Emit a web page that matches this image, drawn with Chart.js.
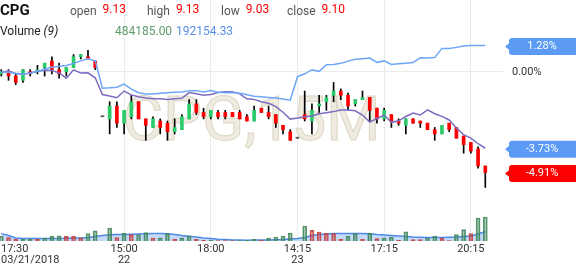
<!DOCTYPE html>
<html>
<head>
<meta charset="utf-8">
<script src="https://cdn.jsdelivr.net/npm/chart.js@4.4.1/dist/chart.umd.min.js"></script>
<style>
  html, body { margin: 0; padding: 0; background: #fff; }
  #wrap { width: 576px; height: 268px; position: relative; }
</style>
</head>
<body>
<div id="wrap"><canvas id="myChart"></canvas></div>
<script>
'use strict';

let symbol = 'CPG';
let period = '15M';
let basePrice = 9.57;

// 15 minute candles, 03/21/2018 17:30 -> 03/23/2018
let opens = [9.56, 9.57, 9.55, 9.53, 9.57, 9.57, 9.59, 9.62, 9.58, 9.57,
    9.59, 9.64, 9.64, 9.62, 9.36, 9.35, 9.41, 9.33, 9.36, 9.43,
    9.35, 9.31, 9.34, 9.33, 9.29, 9.30, 9.35, 9.42, 9.38, 9.36,
    9.38, 9.38, 9.38, 9.38, 9.36, 9.34, 9.40, 9.38, 9.37, 9.32,
    9.29, 9.26, 9.37, 9.34, 9.41, 9.43, 9.46, 9.48, 9.46, 9.42,
    9.44, 9.45, 9.40, 9.35, 9.37, 9.34, 9.32, 9.35, 9.34, 9.33,
    9.30, 9.28, 9.33, 9.31, 9.27, 9.24, 9.21, 9.13];
let highs = [9.58, 9.58, 9.56, 9.58, 9.58, 9.60, 9.61, 9.64, 9.61, 9.59,
    9.65, 9.65, 9.67, 9.62, 9.36, 9.43, 9.43, 9.39, 9.46, 9.43,
    9.35, 9.36, 9.35, 9.34, 9.35, 9.37, 9.44, 9.44, 9.40, 9.39,
    9.39, 9.39, 9.38, 9.39, 9.37, 9.41, 9.40, 9.41, 9.37, 9.32,
    9.30, 9.26, 9.48, 9.42, 9.46, 9.46, 9.52, 9.49, 9.47, 9.44,
    9.48, 9.45, 9.40, 9.40, 9.37, 9.35, 9.35, 9.35, 9.34, 9.33,
    9.31, 9.32, 9.33, 9.31, 9.27, 9.24, 9.22, 9.13];
let lows = [9.55, 9.53, 9.51, 9.52, 9.55, 9.56, 9.55, 9.56, 9.54, 9.55,
    9.59, 9.63, 9.63, 9.58, 9.36, 9.28, 9.31, 9.28, 9.35, 9.35,
    9.25, 9.31, 9.28, 9.25, 9.28, 9.30, 9.35, 9.37, 9.35, 9.35,
    9.35, 9.35, 9.36, 9.35, 9.34, 9.34, 9.38, 9.35, 9.31, 9.28,
    9.25, 9.26, 9.34, 9.28, 9.38, 9.39, 9.43, 9.44, 9.39, 9.41,
    9.44, 9.34, 9.33, 9.34, 9.31, 9.32, 9.28, 9.33, 9.31, 9.30,
    9.25, 9.28, 9.29, 9.26, 9.19, 9.19, 9.12, 9.03];
let closes = [9.57, 9.55, 9.52, 9.58, 9.56, 9.58, 9.61, 9.58, 9.56, 9.59,
    9.64, 9.65, 9.63, 9.59, 9.36, 9.41, 9.33, 9.39, 9.43, 9.35,
    9.32, 9.35, 9.31, 9.29, 9.31, 9.36, 9.42, 9.38, 9.36, 9.39,
    9.36, 9.36, 9.36, 9.35, 9.34, 9.39, 9.38, 9.36, 9.33, 9.30,
    9.25, 9.26, 9.35, 9.39, 9.42, 9.45, 9.48, 9.46, 9.41, 9.44,
    9.45, 9.39, 9.35, 9.39, 9.34, 9.33, 9.35, 9.33, 9.33, 9.30,
    9.28, 9.32, 9.30, 9.26, 9.23, 9.20, 9.13, 9.10];

// comparison line, % change
let compare = [-0.01, -0.02, -0.07, -0.11, -0.07, 0.02, 0.12, 0.22, 0.27, 0.31,
    0.41, 0.53, 0.63, 0.53, -0.80, -0.78, -0.75, -0.60, -0.85, -1.02,
    -1.09, -1.09, -1.05, -1.02, -1.00, -0.99, -0.92, -0.92, -0.99, -0.91,
    -1.00, -1.02, -1.01, -1.05, -1.12, -1.19, -1.22, -1.25, -1.28, -1.33,
    -1.39, -0.24, -0.10, 0.10, 0.02, 0.34, 0.36, 0.41, 0.52, 0.61,
    0.64, 0.67, 0.46, 0.53, 0.36, 0.39, 0.42, 0.45, 0.68, 0.67,
    0.69, 1.14, 1.13, 1.19, 1.26, 1.28, 1.28, 1.28];

// moving average of price
let maLine = [9.567, 9.575, 9.561, 9.559, 9.564, 9.572, 9.577, 9.576, 9.565, 9.540,
    9.579, 9.564, 9.565, 9.542, 9.464, 9.457, 9.449, 9.480, 9.462, 9.453,
    9.448, 9.444, 9.444, 9.441, 9.444, 9.446, 9.473, 9.467, 9.460, 9.464,
    9.473, 9.477, 9.477, 9.467, 9.444, 9.441, 9.430, 9.423, 9.407, 9.381,
    9.349, 9.354, 9.360, 9.364, 9.374, 9.379, 9.384, 9.392, 9.392, 9.388,
    9.368, 9.335, 9.352, 9.368, 9.334, 9.341, 9.361, 9.377, 9.368, 9.392,
    9.374, 9.362, 9.345, 9.308, 9.276, 9.260, 9.234, 9.213];

let volumes = [101200, 68400, 33900, 35100, 36300, 32800, 60700, 99800, 102500, 98600,
    96900, 60300, 148700, 203400, 0, 261800, 68900, 160500, 128700, 131200,
    169400, 60800, 62300, 148900, 34200, 61500, 100300, 33700, 12400, 14100,
    10200, 8300, 6100, 9800, 12600, 34500, 20300, 61200, 80900, 99700,
    161300, 0, 302800, 215600, 182300, 160900, 148600, 34100, 95200, 149300,
    33800, 160700, 47900, 61100, 81400, 13900, 182600, 27800, 27100, 60900,
    100400, 61300, 9700, 128900, 229800, 149200, 463700, 484185];

let volumeMa = [149000, 111000, 61000, 48000, 48000, 48000, 48000, 48000, 50000, 54000,
    61000, 61000, 71000, 91000, 111000, 125000, 129000, 133000, 137000, 141000,
    145000, 149000, 149000, 145000, 131000, 111000, 97000, 81000, 61000, 48000,
    35000, 28000, 22000, 18000, 17000, 18000, 19000, 22000, 26000, 30000,
    40000, 50000, 71000, 111000, 131000, 141000, 149000, 149000, 149000, 149000,
    149000, 145000, 131000, 121000, 111000, 101000, 91000, 81000, 77000, 71000,
    69000, 73000, 77000, 81000, 91000, 101000, 141000, 192154.33];

let tickIndex = [0, 17, 29, 41, 53, 65];
let tickTime = ['17:30', '15:00', '18:00', '14:15', '17:15', '20:15'];
let tickDay = ['03/21/2018', '22', '', '23', '', ''];

let green = '#2bcb6b';
let red = '#ff0000';
let last = closes.length - 1;

function candleColor(i) {
    if (closes[i] > opens[i]) return green;
    if (closes[i] < opens[i]) return red;
    return '#555555';
}

function volumeUp(i) {
    return i === 0 || volumes[i] >= volumes[i - 1];
}

let wickData = opens.map((o, i) => ({ x: i, y: [lows[i], highs[i]] }));
let bodyData = opens.map((o, i) => ({ x: i, y: [o, closes[i]] }));
let compareData = compare.map((p, i) => ({ x: i, y: basePrice * (1 + p / 100) }));
let maData = maLine.map((v, i) => ({ x: i, y: v }));
let volData = volumes.map((v, i) => ({ x: i, y: v }));
let volMaData = volumeMa.map((v, i) => ({ x: i, y: v }));

function pct(price) {
    return ((price / basePrice - 1) * 100).toFixed(2) + '%';
}

const watermark = {
    id: 'watermark',
    beforeDatasetsDraw(chart) {
        let ctx = chart.ctx;
        let area = chart.chartArea;
        ctx.save();
        ctx.font = '62px Roboto';
        ctx.textAlign = 'center';
        ctx.textBaseline = 'alphabetic';
        ctx.fillStyle = '#efebe1';
        ctx.strokeStyle = '#dcd6c4';
        ctx.lineWidth = 1;
        let cx = (area.left + area.right) / 2;
        ctx.fillText(symbol + ',' + period, cx, 140);
        ctx.strokeText(symbol + ',' + period, cx, 140);
        ctx.restore();
    }
};

function roundBox(ctx, x, y, w, h, r) {
    ctx.beginPath();
    ctx.moveTo(x + r, y);
    ctx.lineTo(x + w - r, y);
    ctx.quadraticCurveTo(x + w, y, x + w, y + r);
    ctx.lineTo(x + w, y + h - r);
    ctx.quadraticCurveTo(x + w, y + h, x + w - r, y + h);
    ctx.lineTo(x + r, y + h);
    ctx.quadraticCurveTo(x, y + h, x, y + h - r);
    ctx.lineTo(x, y + r);
    ctx.quadraticCurveTo(x, y, x + r, y);
    ctx.closePath();
}

const overlay = {
    id: 'overlay',
    afterDraw(chart) {
        let ctx = chart.ctx;
        let xs = chart.scales.x;
        let ys = chart.scales.y;
        ctx.save();

        // header
        ctx.textAlign = 'left';
        ctx.textBaseline = 'alphabetic';
        ctx.font = 'bold 15px Roboto';
        ctx.fillStyle = '#111';
        ctx.fillText(symbol, 0, 15);

        let heads = [['open', opens[last], 70], ['high', highs[last], 147],
            ['low', lows[last], 221], ['close', closes[last], 287]];
        heads.forEach(h => {
            ctx.font = '12px Roboto';
            ctx.fillStyle = '#555';
            ctx.fillText(h[0], h[2], 15);
            let w = ctx.measureText(h[0]).width;
            ctx.fillStyle = red;
            ctx.fillText(h[1].toFixed(2), h[2] + w + 6, 12.5);
        });

        ctx.font = '12px Roboto';
        ctx.fillStyle = '#222';
        ctx.fillText('Volume ', 0, 35);
        let vw = ctx.measureText('Volume ').width;
        ctx.font = 'italic 12px Roboto';
        ctx.fillText('(9)', vw, 35);
        ctx.font = '12px Roboto';
        ctx.fillStyle = '#5d9a6c';
        ctx.fillText(volumes[last].toFixed(2), 115, 35);
        ctx.fillStyle = '#5b8fe6';
        ctx.fillText(volumeMa[last].toFixed(2), 176, 35);

        // time axis labels
        ctx.font = '11px Roboto';
        ctx.fillStyle = '#333';
        tickIndex.forEach((t, k) => {
            let px = xs.getPixelForValue(t);
            if (k === 0) {
                ctx.textAlign = 'left';
                px = 1;
            } else {
                ctx.textAlign = 'center';
            }
            ctx.fillText(tickTime[k], px, 252);
            if (tickDay[k]) ctx.fillText(tickDay[k], px, 263);
        });

        // last value boxes on the right
        let tags = [
            { price: compareData[last].y, color: '#5b9bf6' },
            { price: maLine[last], color: '#5b9bf6' },
            { price: closes[last], color: red }
        ];
        tags.forEach(tg => {
            let y = ys.getPixelForValue(tg.price) + 1;
            ctx.fillStyle = tg.color;
            roundBox(ctx, 509, y - 8.5, 70, 17, 3);
            ctx.fill();
            ctx.beginPath();
            ctx.moveTo(505, y);
            ctx.lineTo(510, y - 4);
            ctx.lineTo(510, y + 4);
            ctx.closePath();
            ctx.fill();
            ctx.fillStyle = '#fff';
            ctx.font = '11px Roboto';
            ctx.textAlign = 'center';
            ctx.textBaseline = 'middle';
            ctx.fillText(pct(tg.price), 542, y);
            ctx.textBaseline = 'alphabetic';
        });

        ctx.restore();
    }
};

let config = {
    type: 'bar',
    data: {
        datasets: [{
            type: 'line',
            label: 'compare',
            data: compareData,
            borderColor: '#6ea6f7',
            borderWidth: 1.5,
            pointRadius: 0,
            yAxisID: 'y',
            order: 0
        }, {
            type: 'line',
            label: 'ma',
            data: maData,
            borderColor: '#7d6cc0',
            borderWidth: 1.5,
            pointRadius: 0,
            yAxisID: 'y',
            order: 1
        }, {
            label: 'body',
            data: bodyData,
            backgroundColor: bodyData.map((d, i) => candleColor(i)),
            barThickness: 3,
            minBarLength: 1,
            grouped: false,
            yAxisID: 'y',
            order: 2
        }, {
            label: 'wick',
            data: wickData,
            backgroundColor: '#000',
            barThickness: 1,
            grouped: false,
            yAxisID: 'y',
            order: 3
        }, {
            label: 'volume',
            data: volData,
            backgroundColor: volData.map((d, i) => volumeUp(i) ? 'rgba(60,140,90,0.45)' : 'rgba(200,60,60,0.45)'),
            borderColor: volData.map((d, i) => volumeUp(i) ? 'rgba(60,130,85,0.85)' : 'rgba(195,60,60,0.85)'),
            borderWidth: 1,
            barThickness: 4,
            grouped: false,
            yAxisID: 'yv',
            order: 4
        }, {
            type: 'line',
            label: 'volume ma',
            data: volMaData,
            borderColor: '#4f8ae6',
            borderWidth: 1.5,
            backgroundColor: 'rgba(90,145,235,0.35)',
            fill: 'origin',
            pointRadius: 0,
            yAxisID: 'yv',
            order: 5
        }]
    },
    options: {
        responsive: true,
        maintainAspectRatio: false,
        animation: false,
        events: [],
        layout: { padding: { left: 0, top: 0, right: 0, bottom: 27 } },
        plugins: { legend: { display: false }, tooltip: { enabled: false } },
        scales: {
            x: {
                type: 'linear',
                offset: false,
                min: -0.18,
                max: 69.45,
                afterBuildTicks: s => { s.ticks = tickIndex.slice(1).map(v => ({ value: v })); },
                afterFit: s => { s.height = 0; s.paddingLeft = 0; s.paddingRight = 0; },
                ticks: { display: false },
                grid: { color: '#ebebeb', drawTicks: false, offset: false },
                border: { display: false }
            },
            y: {
                type: 'linear',
                position: 'right',
                min: 8.78,
                max: 9.905,
                afterBuildTicks: s => { s.ticks = [{ value: basePrice }]; },
                afterFit: s => { s.width = 73; s.paddingTop = 0; s.paddingBottom = 0; },
                ticks: {
                    callback: v => pct(v),
                    font: { family: 'Roboto', size: 11 },
                    color: '#333',
                    padding: 9
                },
                grid: { color: '#ebebeb', drawTicks: false },
                border: { display: false }
            },
            yv: {
                type: 'linear',
                display: false,
                min: 0,
                max: 4860000
            }
        }
    },
    plugins: [watermark, overlay]
};

let myChart = new Chart(document.getElementById('myChart'), config);
</script>
</body>
</html>
